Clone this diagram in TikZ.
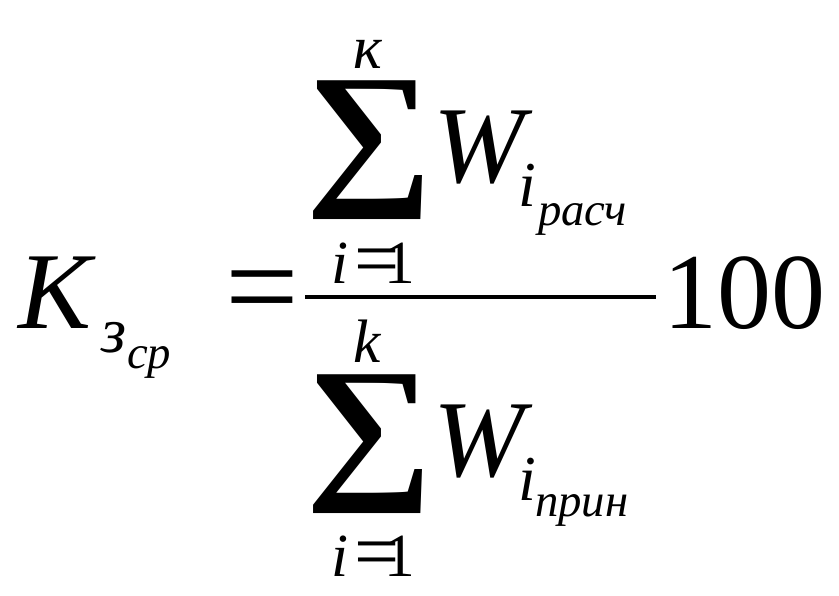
\documentclass[tikz,border=0pt]{standalone}
\usepackage{fontspec}
\setmainfont{Liberation Serif}
\usetikzlibrary{positioning}

\tikzset{
  glyph/.style={inner sep=0pt, outer sep=0pt, anchor=base west},
  huge/.style={glyph, font=\fontsize{82}{82}\selectfont\itshape},
  upright/.style={glyph, font=\fontsize{81}{81}\selectfont},
  relsign/.style={glyph, font=\fontsize{98}{98}\selectfont},
  limit/.style={glyph, font=\fontsize{46}{46}\selectfont\itshape},
  limitup/.style={glyph, font=\fontsize{46}{46}\selectfont},
  limitrel/.style={glyph, font=\fontsize{60}{60}\selectfont},
  subone/.style={glyph, font=\fontsize{48}{48}\selectfont\itshape},
  subtwo/.style={glyph, font=\fontsize{35}{35}\selectfont\itshape},
  sumsign/.style={glyph, xscale=1.12, font=\fontsize{120}{120}\selectfont\bfseries},
}

\begin{document}
\begin{tikzpicture}[x=0.75pt, y=-0.75pt]
  \useasboundingbox (0,0) rectangle (839,596);

  % left side
  \node[huge] (K) at (18,328) {K};
  \node[subone] (z) at (101,352) {з};
  \node[subtwo] (cp) at (127,368) {ср};
  \node[relsign] (eq) at (225,330) {=};

  % fraction bar
  \coordinate (barL) at (305,297);
  \coordinate (barR) at (656,297);
  \draw[line width=3pt] (barL) -- (barR);

  % numerator
  \node[limit] (kTop) at (353,68) {к};
  \node[sumsign] (sumTop) at (305,185) {∑};
  \node[huge] (WTop) at (433,182) {W};
  \node[subone] (iTop) at (518,206) {i};
  \node[subtwo] (rasch) at (538,225) {расч};
  \node[limit] (iLow) at (331,283) {i};
  \node[limitrel] (eqLow) at (354,285) {=};
  \node[limitup] (oneLow) at (384,283) {1};

  % denominator
  \node[limit] (kBot) at (353,362) {k};
  \node[sumsign] (sumBot) at (305,479) {∑};
  \node[huge] (WBot) at (433,476) {W};
  \node[subone] (iBot) at (518,500) {i};
  \node[subtwo] (prin) at (535,516) {прин};
  \node[limit] (iLowB) at (331,576) {i};
  \node[limitrel] (eqLowB) at (354,578) {=};
  \node[limitup] (oneLowB) at (384,576) {1};

  % factor
  \node[upright] (hundred) at (663,328) {100};
\end{tikzpicture}
\end{document}
